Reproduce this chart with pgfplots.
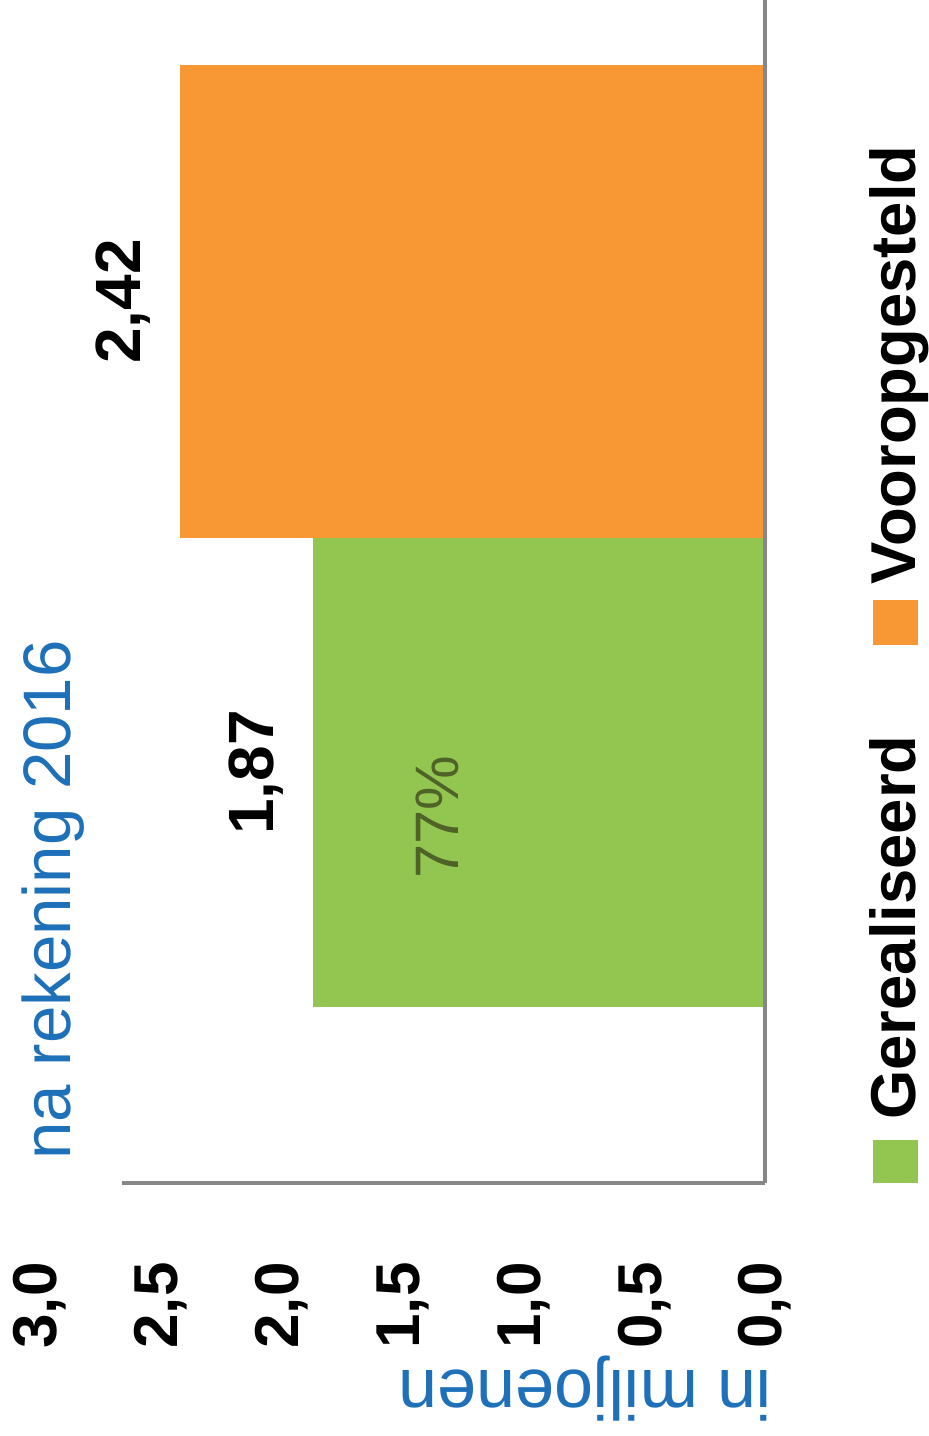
\documentclass[border=0pt]{standalone}
\usepackage{fontspec}
\setmainfont{Liberation Sans}
\usepackage{pgfplots}
\pgfplotsset{compat=1.18}
\definecolor{bargreen}{RGB}{146,198,81}
\definecolor{barorange}{RGB}{247,152,52}
\definecolor{axgray}{RGB}{135,135,135}
\definecolor{titleblue}{RGB}{30,112,185}
\definecolor{darkolive}{RGB}{79,98,40}
\begin{document}
\begin{tikzpicture}
\begin{axis}[
  name=ax,
  scale only axis, width=362.5pt, height=591.5pt,
  xmin=0, xmax=3, ymin=0, ymax=1183,
  x dir=reverse,
  separate axis lines,
  axis x line*=bottom, axis y line*=right,
  axis line style={draw=none},
  xtick={0,0.5,1,1.5,2,2.5,3}, ytick=\empty,
  major tick length=0pt,
  xtick style={draw=none},
  clip=false,
  xticklabel style={rotate=90, anchor=east, inner sep=0pt,
    font=\bfseries\fontsize{31}{36}\selectfont,
    /pgf/number format/.cd, assume math mode=true, use comma, fixed, fixed zerofill, precision=1},
  xticklabel shift=39.5pt,
  xbar, bar shift=0pt,
  nodes near coords={\pgfmathprintnumber[assume math mode=true, use comma, fixed, fixed zerofill, precision=2]{\pgfplotspointmeta}},
  point meta=x,
  nodes near coords style={rotate=90, anchor=south, inner sep=0pt, text=black,
    font=\bfseries\fontsize{32}{36}\selectfont, yshift=14.5pt},
]
\addplot[fill=bargreen, draw=none, bar width=469] coordinates {(1.87,410.5)};
\addplot[fill=barorange, draw=none, bar width=473] coordinates {(2.42,881.5)};

\draw[axgray, line width=1.6pt] (axis cs:0,0) -- (axis cs:0,1183);
\draw[axgray, line width=1.6pt] (axis cs:0,0) -- (axis cs:2.66,0);

\node[rotate=90, anchor=base, text=darkolive, font=\fontsize{30.7}{36}\selectfont] at (axis cs:1.269,366) {77\%};
\node[rotate=90, anchor=base, text=titleblue, font=\fontsize{33.6}{40}\selectfont] at (axis cs:2.872,283) {na rekening 2016};
\node[rotate=180, anchor=base, text=titleblue, font=\fontsize{35}{40}\selectfont] at (axis cs:0.744,-187) {in miljoenen};

% legend
\fill[bargreen] (axis cs:-0.446,0) rectangle (axis cs:-0.632,43);
\node[rotate=90, anchor=base west, inner sep=0pt, font=\bfseries\fontsize{31.7}{36}\selectfont] at (axis cs:-0.624,63) {Gerealiseerd};
\fill[barorange] (axis cs:-0.446,538) rectangle (axis cs:-0.632,583);
\node[rotate=90, anchor=base west, inner sep=0pt, font=\bfseries\fontsize{31.7}{36}\selectfont] at (axis cs:-0.624,598) {Vooropgesteld};
\end{axis}
\pgfresetboundingbox
\path[use as bounding box] ([shift={(-20pt,-126.5pt)}]ax.south west) rectangle ([shift={(444pt,591.5pt)}]ax.south west);
\end{tikzpicture}
\end{document}
